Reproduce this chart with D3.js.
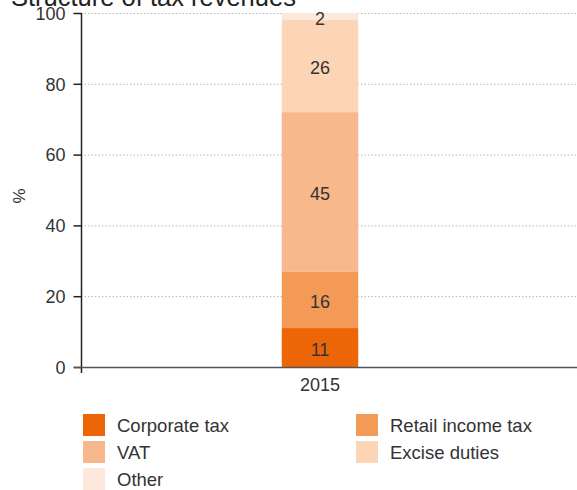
<!DOCTYPE html>
<html>
<head>
<meta charset="utf-8">
<script src="https://cdn.jsdelivr.net/npm/d3@7"></script>
<style>
  html, body { margin: 0; padding: 0; background: #fff; overflow: hidden; }
  svg { display: block; font-family: "Liberation Sans", Arial, sans-serif; }
</style>
</head>
<body>
<div id="chart"></div>
<script>
/* Structure of tax revenues — stacked column, 2015 */

const years = ['2015'];
const seriesNames = ['Corporate tax', 'Retail income tax', 'VAT', 'Excise duties', 'Other'];
const seriesValues = [11, 16, 45, 26, 2];
const seriesColors = ['#ec6608', '#f39a57', '#f7b98b', '#fbd5b5', '#fde9db'];
const yTicks = [0, 20, 40, 60, 80, 100];

const W = 577, H = 490;
const margin = { left: 81, right: 18, top: 13, bottom: 123 };

const svg = d3.select('#chart').append('svg')
  .attr('width', W).attr('height', H);

const x = d3.scaleBand()
  .domain(years)
  .range([margin.left, W - margin.right])
  .paddingInner(0.84).paddingOuter(0.385);

const y = d3.scaleLinear()
  .domain([0, 100])
  .range([H - margin.bottom, margin.top]);

/* title (partly cut off at the top, as in the source) */
svg.append('text')
  .attr('x', 11).attr('y', 6)
  .attr('font-size', 25.5)
  .attr('fill', '#222')
  .text('Structure of tax revenues');

/* dotted grid */
svg.append('g')
  .selectAll('line')
  .data(yTicks.filter(d => d > 0))
  .join('line')
  .attr('x1', margin.left).attr('x2', W)
  .attr('y1', d => y(d) + 0.5).attr('y2', d => y(d) + 0.5)
  .attr('stroke', '#b5b5b5')
  .attr('stroke-width', 1)
  .attr('stroke-dasharray', '1.5,2');

/* stacked bars */
const rows = [Object.fromEntries(seriesNames.map((n, i) => [n, seriesValues[i]]))];
rows[0].year = years[0];
const stack = d3.stack().keys(seriesNames)(rows);

const layers = svg.append('g')
  .selectAll('g')
  .data(stack)
  .join('g')
  .attr('fill', (d, i) => seriesColors[i]);

layers.selectAll('rect')
  .data(d => d)
  .join('rect')
  .attr('x', d => x(d.data.year))
  .attr('width', x.bandwidth())
  .attr('y', d => y(d[1]))
  .attr('height', d => y(d[0]) - y(d[1]));

layers.selectAll('text')
  .data(d => d.map(v => ({ v, key: d.key })))
  .join('text')
  .attr('x', d => x(d.v.data.year) + x.bandwidth() / 2)
  .attr('y', d => (y(d.v[0]) + y(d.v[1])) / 2 + 8)
  .attr('text-anchor', 'middle')
  .attr('font-size', 18)
  .attr('fill', '#333')
  .text(d => d.v.data[d.key]);

/* y axis */
const yAxis = svg.append('g')
  .attr('transform', `translate(${margin.left + 0.5},0)`)
  .call(d3.axisLeft(y).tickValues(yTicks).tickSize(8).tickPadding(8));
yAxis.select('.domain').remove();
yAxis.selectAll('.tick line').attr('stroke', '#222').attr('stroke-width', 1.5);
yAxis.selectAll('text').attr('font-size', 18).attr('fill', '#333')
  .attr('dy', '0.35em')
  .attr('font-family', '"Liberation Sans", Arial, sans-serif');
svg.append('line')
  .attr('x1', margin.left + 0.5).attr('x2', margin.left + 0.5)
  .attr('y1', y(100)).attr('y2', y(0) + 6)
  .attr('stroke', '#222').attr('stroke-width', 1.5);

/* x axis */
svg.append('line')
  .attr('x1', margin.left - 7).attr('x2', W)
  .attr('y1', y(0) + 0.5).attr('y2', y(0) + 0.5)
  .attr('stroke', '#555').attr('stroke-width', 1.5);
svg.append('g')
  .selectAll('text')
  .data(years)
  .join('text')
  .attr('x', d => x(d) + x.bandwidth() / 2)
  .attr('y', y(0) + 24)
  .attr('text-anchor', 'middle')
  .attr('font-size', 18)
  .attr('fill', '#333')
  .text(d => d);

/* y label */
svg.append('text')
  .attr('transform', `translate(25, ${(y(0) + y(100)) / 2 + 6}) rotate(-90)`)
  .attr('text-anchor', 'middle')
  .attr('font-size', 17)
  .attr('fill', '#333')
  .text('%');

/* legend */
const lg = svg.append('g');
const legendPos = [
  [83, 414], [356, 414],
  [83, 441], [356, 441],
  [83, 468]
];
seriesNames.forEach((name, i) => {
  const [lx, ly] = legendPos[i];
  lg.append('rect')
    .attr('x', lx).attr('y', ly)
    .attr('width', 22).attr('height', 22)
    .attr('fill', seriesColors[i]);
  lg.append('text')
    .attr('x', lx + 34).attr('y', ly + 18)
    .attr('font-size', 18.5)
    .attr('fill', '#333')
    .text(name);
});
</script>
</body>
</html>
